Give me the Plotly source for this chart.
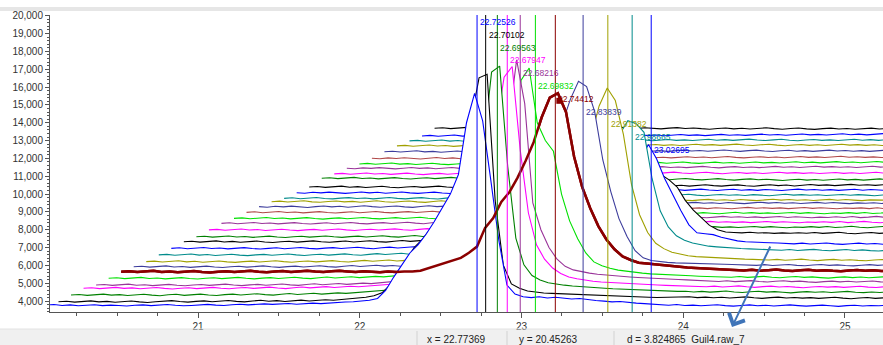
import plotly.graph_objects as go

# ---------------- data ----------------
# scan grid of every chromatogram (raw retention time, min)
RT_START = 20.06
RT_STEP = 0.05
# waterfall display offsets per trace
OFFSET_X = 0.0775
OFFSET_Y = 318
UNIT = 10  # intensities below are stored in units of 10 counts

T00 = [378,381,376,379,374,377,380,375,378,376,373,377,379,375,378,381,377,374,376,379,382,378,376,380,383,379,381,385,382,384,387,383,386,389,386,390,
       392,395,397,400,405,415,460,535,600,670,715,775,845,920,1000,1110,1400,1565,1410,1080,740,490,440,425,420,425,418,422,416,412,415,408,404,400,396,398,392,389,386,383,
       380,377,381,376,378,374,377,380,375,372,376,379,374,377,373,376,379,375,372,375,378,374,371,375,377,373,376,374,377,373]
T01 = [365,368,363,366,370,364,367,362,366,369,364,361,365,368,371,366,363,367,370,365,368,372,367,364,369,373,368,371,366,370,374,369,372,376,373,377,
       380,384,390,398,415,460,535,600,670,715,775,845,920,1000,1110,1380,1620,1640,930,570,465,440,425,418,414,412,410,407,405,403,400,398,396,394,393,392,391,390,389,390,
       392,389,393,388,391,387,390,386,389,392,387,384,388,391,386,389,385,388,384,387,390,385,382,386,389,384,387,385]
T02 = [371,374,369,372,376,370,373,368,371,375,370,367,372,375,369,372,376,371,368,373,376,371,374,378,373,370,375,379,374,377,381,376,379,383,380,384,
       386,389,392,396,402,415,450,515,585,650,705,765,835,910,990,1200,1620,1654,1090,690,540,480,455,440,431,426,421,417,414,411,409,406,404,401,399,397,396,394,392,391,
       392,388,391,387,390,393,388,385,389,392,387,390,386,383,387,390,386,389,385,388,391,386,384,388,385,389,386]
T03 = [377,380,375,378,382,376,379,374,378,381,376,373,377,380,375,379,382,377,374,378,381,376,379,383,378,375,380,384,379,382,386,381,384,388,385,389,
       391,394,397,401,406,418,448,510,578,642,698,758,826,900,985,1270,1560,1620,1150,800,620,540,490,460,440,430,422,416,412,409,406,403,400,398,396,395,393,391,390,389,
       388,385,389,384,387,390,385,382,386,389,384,387,383,380,384,387,383,386,382,385,388,383,381,385,382]
T04 = [363,366,361,364,368,362,365,360,364,367,362,359,363,366,361,365,368,363,360,364,367,362,365,369,364,361,366,370,365,368,372,367,370,374,371,375,
       378,382,386,391,397,410,440,500,565,630,690,750,815,890,1000,1270,1625,1380,823,673,573,508,468,448,438,430,424,419,415,411,408,405,402,400,398,396,394,392,390,389,
       386,383,387,382,385,388,383,380,384,387,382,385,381,378,382,385,381,384,380,383,386,381,379,383]
T05 = [369,372,367,370,374,368,371,366,370,373,368,365,369,372,367,371,374,369,366,370,373,368,371,375,370,367,372,376,371,374,378,373,376,380,377,381,
       384,388,392,397,403,415,445,505,570,635,695,755,820,900,1050,1480,1548,1241,1141,1081,841,691,591,511,461,440,425,415,408,402,398,394,391,388,386,384,383,381,380,379,
       378,375,379,374,377,380,375,372,376,379,374,377,373,370,374,377,373,376,372,375,378,374]
T06 = [374,377,372,375,379,373,376,371,375,378,373,370,374,377,372,376,379,374,371,375,378,373,376,380,375,372,377,380,376,373,377,374,371,375,372,375,
       375,380,395,410,425,440,452,480,515,620,675,765,820,900,995,1100,1240,1350,1375,1270,1020,850,730,630,555,500,460,440,425,420,415,410,405,400,398,395,392,390,388,386,
       384,381,385,380,383,386,381,378,382,385,380,383,379,377,381,384,380,382,378,381,384]
T07 = [370,373,368,371,375,369,372,367,371,374,369,366,370,373,368,372,375,370,367,371,374,369,372,376,371,368,373,377,372,375,379,374,377,373,376,379,
       381,384,388,393,400,410,425,440,455,470,500,560,640,740,850,960,1070,1175,1310,1410,1380,1240,970,790,640,540,460,420,405,398,395,392,390,389,388,386,385,384,383,382,
       381,378,382,377,380,383,378,376,380,383,378,381,377,375,379,382,378,381,377]
T08 = [367,370,365,368,372,366,369,364,368,371,366,363,367,370,365,369,372,367,364,368,371,366,369,373,368,365,370,374,369,372,376,371,374,370,373,377,
       378,381,384,388,393,400,410,420,430,440,480,520,570,610,650,700,750,850,960,1070,1240,1340,1270,1080,800,630,530,470,440,420,410,400,395,392,389,387,385,383,381,380,
       379,376,380,375,378,381,376,373,377,380,375,378,374,372,376,379,375,378]
T09 = [373,376,371,374,378,372,375,370,374,377,372,369,373,376,371,375,378,373,370,374,377,372,375,379,374,371,376,380,375,378,382,377,380,376,379,383,
       384,387,390,394,398,405,412,420,428,436,445,470,500,530,560,590,620,660,730,820,930,1050,1125,1110,1060,800,620,530,480,455,440,430,422,418,414,411,409,407,405,404,
       402,399,403,398,401,404,399,396,400,403,398,401,397,395,399,402]
T10 = [378,381,376,379,383,377,380,375,379,382,377,374,378,381,376,380,383,378,375,379,382,377,380,384,379,376,381,385,380,383,387,382,385,381,384,388,
       389,392,395,399,403,408,413,418,423,428,440,455,480,500,520,540,560,580,600,630,690,780,880,960,880,770,680,590,510,465,460,455,440,430,420,415,412,410,409,408,
       406,403,407,402,405,408,403,400,404,407,402,405,401,399,403]
T11 = [383,386,381,384,388,382,385,380,384,387,382,379,383,386,381,385,388,383,380,384,387,382,385,389,384,381,386,390,385,388,392,387,390,386,389,393,
       394,397,399,402,405,408,412,416,420,425,430,450,480,510,540,570,600,620,640,660,680,720,750,760,730,690,615,560,515,475,450,438,435,433,436,432,434,430,433,431,
       434,431,435,430,433,436,431,428,432,435,430,433,429]
T12 = [379,382,377,380,384,378,381,376,380,383,378,375,379,382,377,381,384,379,376,380,383,378,381,385,380,377,382,386,381,384,388,383,386,382,385,389,
       386,390,395,401,407,414,420,426,431,435,432,436,431,434,438,433,430,434,437,432,435,431,436,433,430,434,438,433,436,432,435,431,434,437,432,436,433,430,434,432,
       436,432,437,431,434,438,433,430,434,437,432]
T13 = [386,389,384,387,391,385,388,383,387,390,385,382,386,389,384,388,391,386,383,387,390,385,388,392,387,384,389,393,388,391,395,390,393,389,392,396,
       393,396,400,405,410,416,421,425,428,431,428,432,427,430,434,429,426,430,433,428,431,427,432,429,426,430,434,429,432,428,431,427,430,433,428,432,429,426,430,428,
       432,428,433,427,430,434,429,426,430,433]
T14 = [391,394,389,392,396,390,393,388,392,395,390,387,391,394,389,393,396,391,388,392,395,390,393,397,392,389,394,398,393,396,400,395,398,394,397,401,
       398,400,403,406,410,414,418,421,424,427,424,428,423,426,430,425,422,426,429,424,427,423,428,425,422,426,430,425,428,424,427,423,426,429,424,428,425,422,426,424,
       428,424,429,423,426,430,425,422]
T15 = [387,390,385,388,392,386,389,384,388,391,386,383,387,390,385,389,392,387,384,388,391,386,389,393,388,385,390,394,389,392,396,391,394,390,393,397,
       395,397,399,402,405,408,411,413,415,418,415,419,414,417,421,416,413,417,420,415,418,414,419,416,413,417,421,416,419,415,418,414,417,420,415,419,416,413,417,415,
       419,415,420,414,417,421,416]
T16 = [389,392,387,390,394,388,391,386,390,393,388,385,389,392,387,391,394,389,386,390,393,388,391,395,390,387,392,396,391,394,398,393,396,392,395,399,
       397,399,401,403,405,407,409,411,412,414,411,415,410,413,417,412,409,413,416,411,414,410,415,412,409,413,417,412,415,411,414,410,413,416,411,415,412,409,413,411,
       414,410,415,409,412]
T17 = [389,386,391,388,392,387,384,389,393,388,391,386,390,394,389,386,390,393,388,385,390,394,389,392,387,391,395,390,393,389,392,396,391,394,390,393,
       395,397,399,401,403,405,406,408,409,411,408,412,407,410,414,409,406,410,413,408,411,407,412,409,406,410,414,409,412,408,411,407,410,413,408,412,409,406,410,408,
       411,407,412]
T18 = [385,388,383,387,390,384,382,386,389,384,387,382,386,390,385,382,386,389,384,381,386,390,385,388,383,387,391,386,389,385,388,392,387,390,386,389,
       389,391,390,392,391,393,392,394,393,396,393,397,392,395,399,394,391,395,398,393,396,392,397,394,391,395,399,394,397,393,396,392,395,398,393,397,394,391,395,394,
       397,393]
T19 = [372,375,370,374,377,371,369,373,376,371,374,369,373,377,372,369,373,376,371,368,373,377,372,375,370,374,378,373,376,372,375,379,374,377,373,376,
       378,380,381,383,384,386,387,389,390,392,389,393,388,391,395,390,387,391,394,389,392,388,393,390,387,391,395,390,393,389,392,388,391,394,389,393,390,387,391,390]
T20 = [372,369,374,371,375,370,368,372,376,371,374,369,372,376,371,368,372,375,370,367,372,376,371,374,369,373,377,372,375,371,374,378,373,376,372,375,
       377,379,380,382,383,384,385,386,387,389,386,390,385,388,392,387,384,388,391,386,389,385,390,387,384,388,392,387,390,386,389,385,388,391,386,390,387,384,388]
T21 = [372,375,370,373,377,371,374,369,373,376,371,368,372,375,370,374,377,372,369,373,376,371,374,378,373,370,375,379,374,377,381,376,379,375,378,382,
       377,380,375,379,383,378,376,380,384,379,382,377,381,385,380,377,381,384,379,376,381,385,380,383,378,382,386,381,384,380,383,387,382,385,381,384,388]
T22 = [389,392,387,390,394,388,391,386,390,393,388,385,389,392,387,391,394,389,386,390,393,388,391,395,390,387,391,394,389,386,390,387,384,388,391,386,
       384,388,385,382,386,389,384,381,385,388,383,380,384,387,382,379,383,386,381,384,380,377,381,384,379,382,378,381,385,380,383,379,382,386,381,384]
T23 = [382,385,380,383,387,381,384,379,383,386,381,378,382,385,380,384,387,382,379,383,386,381,384,388,383,380,385,389,384,387,383,386,390,385,388,384,
       387,391,386,389,385,388,392,387,384,388,391,386,383,387,390,385,388,384,387,391,386,389,385,388,384,387,390,385,388,384,387,391,386,389]
T24 = [382,379,384,381,385,380,378,382,386,381,384,379,382,386,381,378,382,385,380,377,382,386,381,384,379,383,387,382,385,381,384,388,383,386,382,385,
       388,384,387,391,386,389,385,388,392,387,384,388,391,386,389,385,388,392,387,390,386,389,393,388,391,387,390,386,389,393,388,391,387]
T25 = [374,377,372,375,379,373,376,371,375,378,373,370,374,377,372,376,379,374,371,375,378,373,376,380,375,372,377,381,376,379,375,378,382,377,380,376,
       379,383,378,381,385,380,377,381,384,379,382,378,381,385,380,383,379,382,386,381,384,380,383,387,382,385,381,384,388,383,386]
T26 = [374,371,376,373,377,372,370,374,378,373,376,371,374,378,373,370,374,377,372,369,374,378,373,376,371,375,379,374,377,373,376,380,375,378,374,377,
       380,376,379,383,378,381,377,380,384,379,376,380,383,378,381,377,380,384,379,382,378,381,385,380,383,379,382,378,381]
T27 = [379,382,377,380,384,378,381,376,380,383,378,375,379,382,377,381,384,379,376,380,383,378,381,385,380,377,382,386,381,384,380,383,387,382,385,381,
       384,388,383,386,382,385,389,384,381,385,388,383,380,384,387,382,385,381,384,388,383,386,382,385,381,384,388,383]
T28 = [380,383,378,381,385,379,382,377,381,384,379,376,380,383,378,382,385,380,377,381,384,379,382,386,381,378,383,387,382,385,381,384,388,383,386,382,
       385,389,384,387,383,386,390,385,382,386,389,384,381,385,388,383,386,382,385,389,384,387,383,386,382,385]
T29 = [376,379,374,377,381,375,378,373,377,380,375,372,376,379,374,378,381,376,373,377,380,375,378,382,377,374,379,383,378,381,377,380,384,379,382,378,
       381,385,380,383,379,382,386,381,378,382,385,380,377,381,384,379,382,378,381,385,380,383,379,382,378]
T30 = [372,375,370,373,377,371,374,369,373,376,371,368,372,375,370,374,377,372,369,373,376,371,374,378,373,370,375,379,374,377,373,376,380,375,378,374,
       377,381,376,379,375,378,382,377,380,376,379,383,378,381,377,380,384,379,382,378,381,385,380]
T31 = [383,386,381,384,388,382,385,380,384,387,382,379,383,386,381,385,388,383,380,384,387,382,385,389,384,381,386,383,380,384,387,382,385,381,378,382,
       385,380,383,379,382,386,381,378,382,385,380,377,381,384,379,382,378,381,384,379,382,378]

TRACES = [T00, T01, T02, T03, T04, T05, T06, T07, T08, T09, T10, T11, T12, T13, T14, T15,
          T16, T17, T18, T19, T20, T21, T22, T23, T24, T25, T26, T27, T28, T29, T30, T31]

# apex retention times of the labelled peaks (traces 0..10)
PEAK_RT = [22.72526, 22.70102, 22.69563, 22.67947, 22.68216, 22.69832, 22.74412,
           22.83839, 22.91382, 22.98665, 23.02695]
PEAK_TEXT = ["22.72526", "22.70102", "22.69563", "22.67947", "22.68216", "22.69832",
             "22.74412", "22.83839", "22.91382", "22.98665", "23.02695"]

STATUS_TEXT = ["x = 22.77369", "y = 20.45263", "d = 3.824865  Guil4.raw_7"]

X_TICK0, X_DTICK = 0, 1
Y_TICK0, Y_DTICK = 0, 1000
X_RANGE = [20.085, 25.235]
Y_RANGE = [3392, 20039]

# ---------------- style ----------------
PALETTE = ['#0000ff', '#000000', '#008000', '#ff00ff', '#993399',
           '#00e000', '#b04848', '#3c3c9c', '#a0a000', '#008b8b']
SELECTED = 6
SELECTED_COLOR = '#8b0000'
AXIS_COLOR = '#555555'
FONT = 'Liberation Sans, Arial, sans-serif'

W, H = 883, 345
ML, MR, MT, MB = 50, 0, 15, 33
PW, PH = W - ML - MR, H - MT - MB


def pxx(px):
    return (px - ML) / PW


def pxy(py):
    return (H - MB - py) / PH


def color_of(i):
    return SELECTED_COLOR if i == SELECTED else PALETTE[i % len(PALETTE)]


def trace_xy(i):
    vals = TRACES[i]
    xs = [RT_START + k * RT_STEP + i * OFFSET_X for k in range(len(vals))]
    ys = [v * UNIT + i * OFFSET_Y for v in vals]
    return xs, ys


fig = go.Figure()

# back-to-front, each trace hides what lies behind it (white fill)
for i in reversed(range(len(TRACES))):
    xs, ys = trace_xy(i)
    fig.add_trace(go.Scatter(
        x=xs, y=ys, mode='lines', fill='tozeroy', fillcolor='white',
        line=dict(color=color_of(i), width=2.5 if i == SELECTED else 1.1),
        hoverinfo='skip', showlegend=False))

# selected trace drawn again on top
xs, ys = trace_xy(SELECTED)
fig.add_trace(go.Scatter(x=xs, y=ys, mode='lines',
                         line=dict(color=SELECTED_COLOR, width=2.5),
                         hoverinfo='skip', showlegend=False))

shapes = []
annotations = []

# top light band and bottom status bar
shapes.append(dict(type='rect', xref='paper', yref='paper', x0=pxx(0), x1=pxx(W),
                   y0=pxy(11), y1=pxy(7), fillcolor='#e6e6e6', line=dict(width=0), layer='below'))
shapes.append(dict(type='rect', xref='paper', yref='paper', x0=pxx(0), x1=pxx(W),
                   y0=pxy(H), y1=pxy(329), fillcolor='#f0f0f0', line=dict(width=0), layer='below'))
shapes.append(dict(type='line', xref='paper', yref='paper', x0=pxx(0), x1=pxx(W),
                   y0=pxy(329), y1=pxy(329), line=dict(color='#e2e2e2', width=1)))
for sx in [417, 507, 614]:
    shapes.append(dict(type='line', xref='paper', yref='paper', x0=pxx(sx), x1=pxx(sx),
                       y0=pxy(345), y1=pxy(331), line=dict(color='#d2d2d2', width=1)))
for sx, txt in zip([425, 517, 625], STATUS_TEXT):
    annotations.append(dict(x=pxx(sx), y=pxy(339), xref='paper', yref='paper', text=txt,
                            showarrow=False, xanchor='left', yanchor='middle',
                            font=dict(family=FONT, size=10, color='#222222')))

# peak marker lines + labels
LABEL_TOP_PX, LABEL_STEP_PX = 22, 12.8
for i, rt in enumerate(PEAK_RT):
    xl = rt + i * OFFSET_X
    c = color_of(i)
    shapes.append(dict(type='line', xref='x', yref='paper', x0=xl, x1=xl, y0=0, y1=1,
                       line=dict(color=c, width=1), layer='above'))
    ly = pxy(LABEL_TOP_PX + i * LABEL_STEP_PX)
    annotations.append(dict(x=xl, y=ly, xref='x', yref='paper', text=PEAK_TEXT[i],
                            showarrow=False, xanchor='left', yanchor='middle', xshift=1,
                            font=dict(family=FONT, size=8.5, color=c)))
    if i == SELECTED:
        shapes.append(dict(type='rect', xref='x', xsizemode='pixel', xanchor=xl, x0=1, x1=7,
                           yref='paper', ysizemode='pixel', yanchor=ly - 2 / PH, y0=-3, y1=3,
                           fillcolor=SELECTED_COLOR, line=dict(width=0), layer='above'))

# blue pointer arrow
annotations.append(dict(x=pxx(732), y=pxy(327), xref='paper', yref='paper', text='',
                        showarrow=True, ax=39, ay=-82, axref='pixel', ayref='pixel',
                        arrowhead=4, arrowsize=1.7, arrowwidth=2, arrowcolor='#3f74b8'))

fig.update_layout(
    width=W, height=H, margin=dict(l=ML, r=MR, t=MT, b=MB, pad=0),
    paper_bgcolor='white', plot_bgcolor='white', showlegend=False,
    shapes=shapes, annotations=annotations, hovermode=False,
)
fig.update_xaxes(
    range=X_RANGE, tickmode='linear', tick0=X_TICK0, dtick=X_DTICK,
    showgrid=False, zeroline=False, showline=True, linecolor=AXIS_COLOR, linewidth=1,
    ticks='outside', ticklen=5, tickcolor=AXIS_COLOR,
    tickfont=dict(family=FONT, size=10, color='#333333'),
    minor=dict(dtick=0.25, tick0=0, ticks='outside', ticklen=3, tickcolor=AXIS_COLOR, showgrid=False),
)
fig.update_yaxes(
    range=Y_RANGE, tickmode='linear', tick0=Y_TICK0, dtick=Y_DTICK, tickformat=',d',
    showgrid=False, zeroline=False, showline=True, linecolor=AXIS_COLOR, linewidth=1,
    ticks='outside', ticklen=4, tickcolor=AXIS_COLOR,
    tickfont=dict(family=FONT, size=10, color='#333333'),
    minor=dict(dtick=200, tick0=0, ticks='outside', ticklen=2, tickcolor=AXIS_COLOR, showgrid=False),
)

fig.write_html("out.html", config={'displayModeBar': False})
